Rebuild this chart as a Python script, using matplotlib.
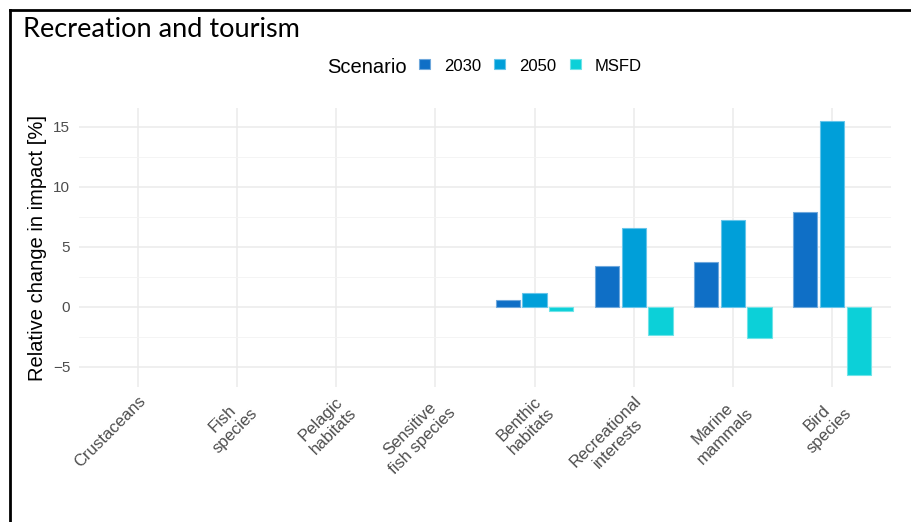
import matplotlib
matplotlib.use("Agg")
import matplotlib.pyplot as plt
from matplotlib.lines import Line2D
from matplotlib.patches import Rectangle
import numpy as np

# categories and scenario values (relative change in impact, %)
categories = ["Crustaceans", "Fish\nspecies", "Pelagic\nhabitats", "Sensitive\nfish species",
              "Benthic\nhabitats", "Recreational\ninterests", "Marine\nmammals", "Bird\nspecies"]
scenarios = ["2030", "2050", "MSFD"]
v2030 = [np.nan, np.nan, np.nan, np.nan, 0.58, 3.39, 3.7, 7.89]
v2050 = [np.nan, np.nan, np.nan, np.nan, 1.12, 6.58, 7.25, 15.5]
vmsfd = [np.nan, np.nan, np.nan, np.nan, -0.33, -2.36, -2.63, -5.67]
colors = ["#0F6FC6", "#009FD9", "#0CD0D8"]
edges = ["#6FA8DC", "#66C5EA", "#6FE3E8"]

plt.rcParams['font.family'] = ['Liberation Sans', 'DejaVu Sans']

W, H = 912, 522
fig = plt.figure(figsize=(W / 100, H / 100), dpi=100)
ax = fig.add_axes([0.0861, 0.2577, 0.8914, 0.5354])

x = np.arange(len(categories))
offs = [-0.27, 0.0, 0.27]
for vals, off, c, ec in zip([v2030, v2050, vmsfd], offs, colors, edges):
    ax.bar(x + off, vals, width=0.245, color=c, edgecolor=ec, linewidth=0.8, zorder=3)

ax.set_xlim(-0.6, 7.6)
ax.set_ylim(-6.73, 16.56)
ax.set_yticks([-5, 0, 5, 10, 15])
ax.set_yticks([-2.5, 2.5, 7.5, 12.5], minor=True)
ax.set_xticks(x)
ax.set_xticklabels(categories, rotation=45, ha='right', va='top', rotation_mode='anchor',
                   multialignment='center', fontsize=12, color='#4D4D4D')
ax.tick_params(axis='y', labelsize=11, labelcolor='#4D4D4D', length=0, pad=6)
ax.tick_params(axis='y', which='minor', length=0)
ax.tick_params(axis='x', length=0, pad=4)
ax.grid(True, which='major', color='#EBEBEB', linewidth=1.1, zorder=0)
ax.grid(True, which='minor', axis='y', color='#F3F3F3', linewidth=0.6, zorder=0)
ax.set_axisbelow(True)
for s in ax.spines.values():
    s.set_visible(False)
ax.set_ylabel("Relative change in impact [%]", fontsize=14.5, color='black', labelpad=4)

fig.text(23 / W, 1 - 37 / H, "Recreation and tourism", fontsize=19.5, family=['Lato', 'DejaVu Sans'],
         va='baseline', ha='left')

# legend drawn in pixel positions, title on the same row as keys
fig.text(327 / W, 1 - 73 / H, "Scenario", fontsize=14.5, va='baseline', ha='left')
key_x = [419, 494, 570]
for kx, c, ec, lab in zip(key_x, colors, edges, scenarios):
    fig.add_artist(Rectangle((kx / W, 1 - 69 / H), 11 / W, 10 / H, transform=fig.transFigure,
                             facecolor=c, edgecolor=ec, linewidth=0.8))
    fig.text((kx + 25) / W, 1 - 71 / H, lab, fontsize=12, va='baseline', ha='left')

# partial outer frame (top and left)
fig.add_artist(Line2D([0.0115, 1.0], [0.981, 0.981], color='black', linewidth=2, transform=fig.transFigure))
fig.add_artist(Line2D([0.0115, 0.0115], [0.0, 0.981], color='black', linewidth=2, transform=fig.transFigure))

fig.savefig("out.png", dpi=100)
